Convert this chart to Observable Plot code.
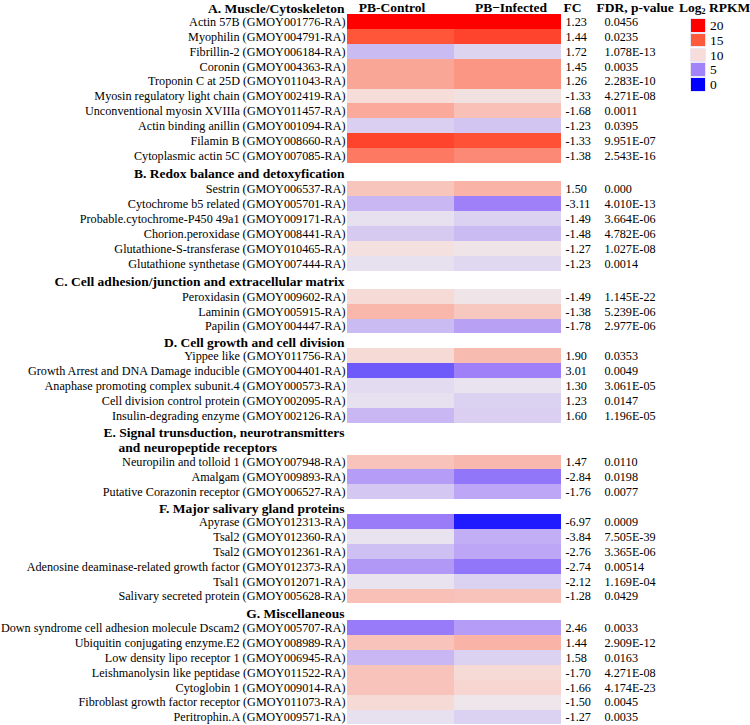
<!DOCTYPE html>
<html><head><meta charset="utf-8">
<script src="https://cdn.jsdelivr.net/npm/d3@7"></script>
<script src="https://cdn.jsdelivr.net/npm/@observablehq/plot@0.6"></script>
<style>
body{margin:0;background:#fff;font-family:"Liberation Serif","Times New Roman",serif;}
#wrap{position:relative;width:750px;height:725px;}
.lg{position:absolute;}
</style></head><body><div id="wrap"></div>
<script>
// ---- data ----
const sectionKeys = ["A","B","C","D","E","F","G"];
const sectionTitles = [
  "A. Muscle/Cytoskeleton",
  "B. Redox balance and detoxyfication",
  "C. Cell adhesion/junction and extracellular matrix",
  "D. Cell growth and cell division",
  "E. Signal trunsduction, neurotransmitters|and neuropeptide receptors",
  "F. Major salivary gland proteins",
  "G. Miscellaneous"
];
const geneSection = [
  "A","A","A","A","A","A","A","A","A","A",
  "B","B","B","B","B","B",
  "C","C","C",
  "D","D","D","D","D",
  "E","E","E",
  "F","F","F","F","F","F",
  "G","G","G","G","G","G","G"
];
const genes = [
  "Actin 57B (GMOY001776-RA)","Myophilin (GMOY004791-RA)","Fibrillin-2 (GMOY006184-RA)","Coronin (GMOY004363-RA)",
  "Troponin C at 25D (GMOY011043-RA)","Myosin regulatory light chain (GMOY002419-RA)","Unconventional myosin XVIIIa (GMOY011457-RA)",
  "Actin binding anillin (GMOY001094-RA)","Filamin B (GMOY008660-RA)","Cytoplasmic actin 5C (GMOY007085-RA)",
  "Sestrin (GMOY006537-RA)","Cytochrome b5 related (GMOY005701-RA)","Probable.cytochrome-P450 49a1 (GMOY009171-RA)",
  "Chorion.peroxidase (GMOY008441-RA)","Glutathione-S-transferase (GMOY010465-RA)","Glutathione synthetase (GMOY007444-RA)",
  "Peroxidasin (GMOY009602-RA)","Laminin (GMOY005915-RA)","Papilin (GMOY004447-RA)",
  "Yippee like (GMOY011756-RA)","Growth Arrest and DNA Damage inducible (GMOY004401-RA)","Anaphase promoting complex subunit.4 (GMOY000573-RA)",
  "Cell division control protein (GMOY002095-RA)","Insulin-degrading enzyme (GMOY002126-RA)",
  "Neuropilin and tolloid 1 (GMOY007948-RA)","Amalgam (GMOY009893-RA)","Putative Corazonin receptor (GMOY006527-RA)",
  "Apyrase (GMOY012313-RA)","Tsal2 (GMOY012360-RA)","Tsal2 (GMOY012361-RA)","Adenosine deaminase-related growth factor (GMOY012373-RA)",
  "Tsal1 (GMOY012071-RA)","Salivary secreted protein (GMOY005628-RA)",
  "Down syndrome cell adhesion molecule Dscam2 (GMOY005707-RA)","Ubiquitin conjugating enzyme.E2 (GMOY008989-RA)",
  "Low density lipo receptor 1 (GMOY006945-RA)","Leishmanolysin like peptidase (GMOY011522-RA)","Cytoglobin 1 (GMOY009014-RA)",
  "Fibroblast growth factor receptor (GMOY011073-RA)","Peritrophin.A (GMOY009571-RA)"
];
const conditions = ["PB-Control","PB\u2212Infected"];
const control = [20,15.2,7.2,12.1,12.1,10.0,12.0,8.0,16.2,13.8,
  10.9,7.05,8.7,7.8,9.7,8.7,
  10.1,11.5,7.2,
  10.1,3.4,8.5,8.7,7.05,
  11.0,6.0,7.7,
  4.75,8.8,7.4,5.8,8.8,11.1,
  4.7,11.0,7.05,11.0,11.0,10.1,8.7];
const infected = [20,16.2,8.2,12.7,12.7,9.6,11.1,7.6,15.5,13.2,
  11.6,4.9,8.1,7.2,9.3,8.35,
  9.3,10.8,6.2,
  11.3,4.9,8.8,8.1,8.0,
  11.4,4.5,6.4,
  1.0,6.7,6.4,4.5,8.1,11.0,
  6.0,11.6,8.1,10.1,10.3,9.2,8.1];
const fc = ["1.23","1.44","1.72","1.45","1.26","-1.33","-1.68","-1.23","-1.33","-1.38",
  "1.50","-3.11","-1.49","-1.48","-1.27","-1.23",
  "-1.49","-1.38","-1.78",
  "1.90","3.01","1.30","1.23","1.60",
  "1.47","-2.84","-1.76",
  "-6.97","-3.84","-2.76","-2.74","-2.12","-1.28",
  "2.46","1.44","1.58","-1.70","-1.66","-1.50","-1.27"];
const fdr = ["0.0456","0.0235","1.078E-13","0.0035","2.283E-10","4.271E-08","0.0011","0.0395","9.951E-07","2.543E-16",
  "0.000","4.010E-13","3.664E-06","4.782E-06","1.027E-08","0.0014",
  "1.145E-22","5.239E-06","2.977E-06",
  "0.0353","0.0049","3.061E-05","0.0147","1.196E-05",
  "0.0110","0.0198","0.0077",
  "0.0009","7.505E-39","3.365E-06","0.00514","1.169E-04","0.0429",
  "0.0033","2.909E-12","0.0163","4.271E-08","4.174E-23","0.0045","0.0035"];
const legendTicks = [20,15,10,5,0];
const colorDomain = [0,5,9,10,15,20];
const colorRange = ["#0000ff","#a283f8","#ece8ee","#f6ddd9","#ff5a3c","#ff0000"];

// ---- layout (row units) ----
const ROW_PX = 14.9;
const headerGap = {A:0.94,B:1.23,C:1.21,D:0.98,E:2.15,F:0.99,G:1.12};
const rows = [], headers = [];
let pos = 0;
sectionKeys.forEach((k, si) => {
  const g = headerGap[k];
  const lines = sectionTitles[si].split("|");
  if (lines.length === 1) headers.push({text: lines[0], y: pos + g/2, indent: false});
  else {
    headers.push({text: lines[0], y: pos + g/2 - 0.5, indent: false});
    headers.push({text: lines[1], y: pos + g/2 + 0.5, indent: true});
  }
  pos += g;
  genes.forEach((name, i) => {
    if (geneSection[i] !== k) return;
    rows.push({i, name, y: pos, fc: fc[i], fdr: fdr[i]});
    pos += 1;
  });
});
const cells = rows.flatMap(r => [
  {c: 0, y: r.y, v: control[r.i]},
  {c: 1, y: r.y, v: infected[r.i]}
]);
const topY = headerGap.A / 2;
const font = '"Liberation Serif","Times New Roman",serif';

const chart = Plot.plot({
  width: 750, height: 725,
  marginLeft: 347, marginRight: 189, marginTop: 0, marginBottom: 0,
  x: {domain: [0, 2], axis: null},
  y: {domain: [0, 725 / ROW_PX], range: [0, 725], axis: null},
  color: {type: "linear", domain: colorDomain, range: colorRange, interpolate: "rgb"},
  style: {fontFamily: font, background: "white", color: "black"},
  marks: [
    Plot.rect(cells, {x1: "c", x2: d => d.c + 1, y1: "y", y2: d => d.y + 1, fill: "v", shapeRendering: "crispEdges"}),
    Plot.text(rows, {x: 0, y: d => d.y + 0.5, text: "name", textAnchor: "end", dx: -2, fontSize: 12.2, fontFamily: font, fill: "black"}),
    Plot.text(rows, {x: 2, y: d => d.y + 0.5, text: "fc", textAnchor: "start", dx: 4, fontSize: 12.2, fontFamily: font, fill: "black"}),
    Plot.text(rows, {x: 2, y: d => d.y + 0.5, text: "fdr", textAnchor: "start", dx: 43, fontSize: 12.2, fontFamily: font, fill: "black"}),
    Plot.text(headers.filter(h => !h.indent), {x: 0, y: "y", text: "text", textAnchor: "end", dx: -3, dy: 1, fontSize: 13.5, fontFamily: font, fontWeight: "bold", fill: "black"}),
    Plot.text(headers.filter(h => h.indent), {x: 0, y: "y", text: "text", textAnchor: "start", dx: -229, dy: 1, fontSize: 13.5, fontFamily: font, fontWeight: "bold", fill: "black"}),
    Plot.text([conditions[0]], {x: 0.5, y: topY, text: d => d, dx: -9, fontSize: 13.5, fontFamily: font, fontWeight: "bold", fill: "black"}),
    Plot.text([conditions[1]], {x: 1.5, y: topY, text: d => d, dx: 3, fontSize: 13.5, fontFamily: font, fontWeight: "bold", fill: "black"}),
    Plot.text(["FC"], {x: 2, y: topY, text: d => d, textAnchor: "start", dx: 2, fontSize: 13.5, fontFamily: font, fontWeight: "bold", fill: "black"}),
    Plot.text(["FDR, p-value"], {x: 2, y: topY, text: d => d, textAnchor: "start", dx: 35, fontSize: 13.5, fontFamily: font, fontWeight: "bold", fill: "black"})
  ]
});
const wrap = document.getElementById("wrap");
wrap.appendChild(chart);

// legend overlay
const cs = chart.scale("color");
const title = document.createElement("div");
title.className = "lg";
title.style.cssText = "left:679px;top:0px;font-weight:bold;font-size:13.5px;line-height:15px;white-space:nowrap;";
title.innerHTML = "Log<sub style='font-size:8px;vertical-align:-2px'>2</sub> RPKM";
wrap.appendChild(title);
legendTicks.forEach((v, k) => {
  const sw = document.createElement("div");
  sw.className = "lg";
  sw.style.cssText = `left:691px;top:${19 + k*14.8}px;width:14px;height:12.5px;background:${cs.apply(v)};box-shadow:0 0 0 0.6px #dcd6ee;`;
  wrap.appendChild(sw);
  const lb = document.createElement("div");
  lb.className = "lg";
  lb.style.cssText = `left:710px;top:${18 + k*14.8}px;font-size:13.5px;line-height:15px;`;
  lb.textContent = String(v);
  wrap.appendChild(lb);
});
</script></body></html>
